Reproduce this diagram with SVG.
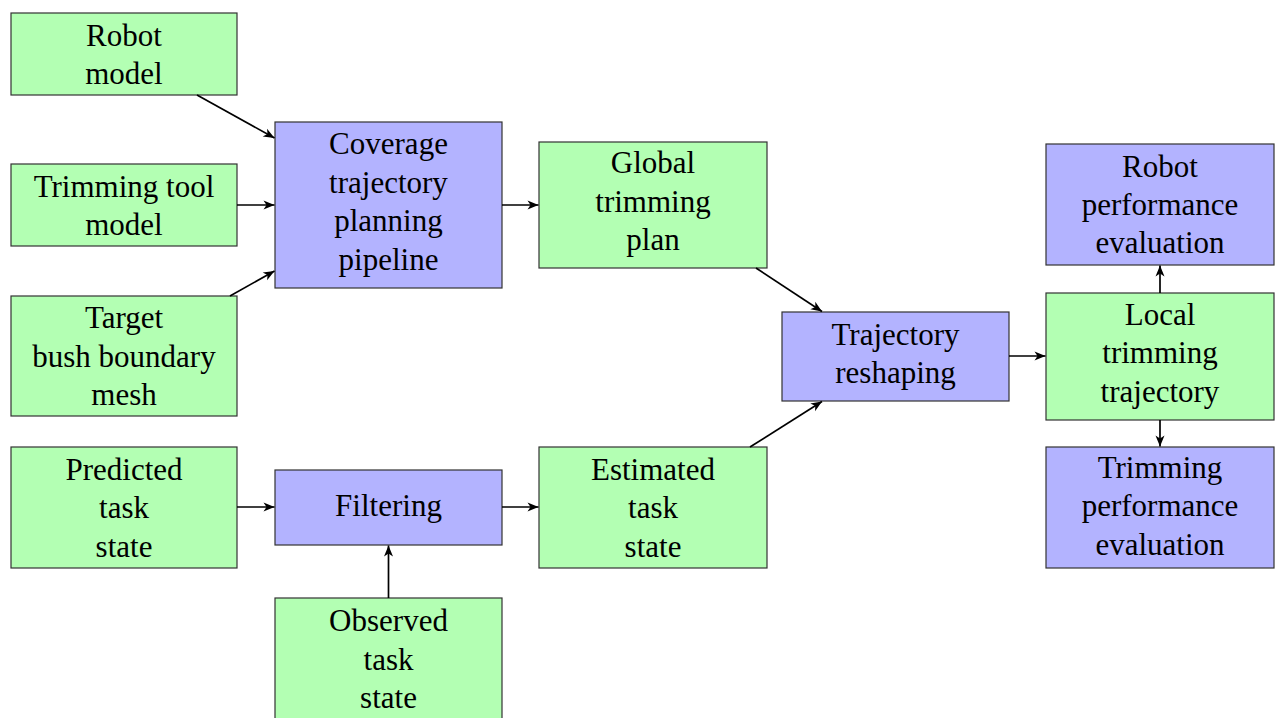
<svg xmlns="http://www.w3.org/2000/svg" width="1277" height="718" viewBox="0 0 1277 718">
<style>
.g{fill:#b3ffb3;stroke:#333;stroke-width:1.2}
.b{fill:#b3b3ff;stroke:#333;stroke-width:1.2}
text{font-family:'Liberation Serif',serif;font-size:31px;fill:#000;text-anchor:middle}
.c line{stroke:#000;stroke-width:1.7;marker-end:url(#ah)}
</style>
<defs>
<marker id="ah" markerUnits="userSpaceOnUse" viewBox="-12 -6 13 12" refX="0" refY="0" markerWidth="13" markerHeight="12" orient="auto">
<path d="M0,0 L-11,-4.5 L-8,0 L-11,4.5 Z" fill="#000"/>
</marker>
</defs>
<rect width="1277" height="718" fill="#fff"/>
<g id="robot-model"><rect class="g" x="11" y="13" width="226" height="82"/><text x="124" y="46">Robot</text><text x="124" y="84">model</text></g>
<g id="tool-model"><rect class="g" x="11" y="164" width="226" height="82"/><text x="124" y="197">Trimming tool</text><text x="124" y="235">model</text></g>
<g id="target-mesh"><rect class="g" x="11" y="296" width="226" height="120"/><text x="124" y="328">Target</text><text x="124" y="366.5">bush boundary</text><text x="124" y="405">mesh</text></g>
<g id="coverage"><rect class="b" x="275" y="122" width="227" height="166"/><text x="388.5" y="154">Coverage</text><text x="388.5" y="192.5">trajectory</text><text x="388.5" y="231">planning</text><text x="388.5" y="269.5">pipeline</text></g>
<g id="global-plan"><rect class="g" x="539" y="142" width="228" height="126"/><text x="653" y="173">Global</text><text x="653" y="211.5">trimming</text><text x="653" y="250">plan</text></g>
<g id="reshaping"><rect class="b" x="782" y="312" width="227" height="89"/><text x="895.5" y="345">Trajectory</text><text x="895.5" y="383">reshaping</text></g>
<g id="robot-eval"><rect class="b" x="1046" y="144" width="228" height="121"/><text x="1160" y="177">Robot</text><text x="1160" y="215">performance</text><text x="1160" y="253">evaluation</text></g>
<g id="local-traj"><rect class="g" x="1046" y="293" width="228" height="127"/><text x="1160" y="325">Local</text><text x="1160" y="363">trimming</text><text x="1160" y="402">trajectory</text></g>
<g id="trim-eval"><rect class="b" x="1046" y="447" width="228" height="121"/><text x="1160" y="478">Trimming</text><text x="1160" y="516">performance</text><text x="1160" y="555">evaluation</text></g>
<g id="predicted"><rect class="g" x="11" y="447" width="226" height="121"/><text x="124" y="480">Predicted</text><text x="124" y="518">task</text><text x="124" y="557">state</text></g>
<g id="filtering"><rect class="b" x="275" y="470" width="227" height="75"/><text x="388.5" y="516">Filtering</text></g>
<g id="estimated"><rect class="g" x="539" y="447" width="228" height="121"/><text x="653" y="480">Estimated</text><text x="653" y="518">task</text><text x="653" y="557">state</text></g>
<g id="observed"><rect class="g" x="275" y="598" width="227" height="130"/><text x="388.5" y="631">Observed</text><text x="388.5" y="670">task</text><text x="388.5" y="708">state</text></g>
<g id="connectors" class="c">
<line x1="197" y1="95" x2="274.5" y2="138"/>
<line x1="237" y1="205" x2="274.5" y2="205"/>
<line x1="230" y1="296" x2="274.5" y2="271"/>
<line x1="502" y1="205" x2="538.5" y2="205"/>
<line x1="756" y1="268" x2="822" y2="311.5"/>
<line x1="750" y1="447" x2="822" y2="401.5"/>
<line x1="1009" y1="356" x2="1045.5" y2="356"/>
<line x1="1160" y1="293" x2="1160" y2="265.5"/>
<line x1="1160" y1="420" x2="1160" y2="446.5"/>
<line x1="237" y1="507" x2="274.5" y2="507"/>
<line x1="502" y1="507" x2="538.5" y2="507"/>
<line x1="388.5" y1="598" x2="388.5" y2="545.5"/>
</g>
</svg>
